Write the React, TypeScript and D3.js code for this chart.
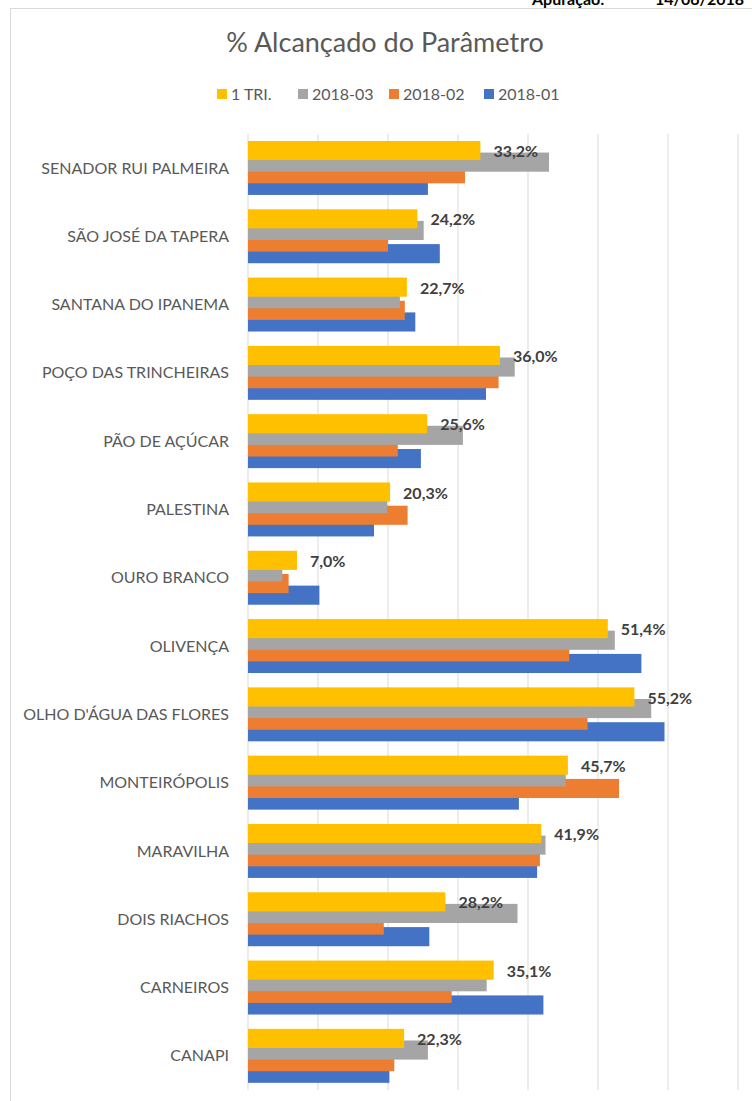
import React from 'react';
import * as d3 from 'd3';

const categories = [
  'SENADOR RUI PALMEIRA',
  'SÃO JOSÉ DA TAPERA',
  'SANTANA DO IPANEMA',
  'POÇO DAS TRINCHEIRAS',
  'PÃO DE AÇÚCAR',
  'PALESTINA',
  'OURO BRANCO',
  'OLIVENÇA',
  "OLHO D'ÁGUA DAS FLORES",
  'MONTEIRÓPOLIS',
  'MARAVILHA',
  'DOIS RIACHOS',
  'CARNEIROS',
  'CANAPI',
];

// % values
const tri1 = [33.2, 24.2, 22.7, 36.0, 25.6, 20.3, 7.0, 51.4, 55.2, 45.7, 41.9, 28.2, 35.1, 22.3];
const s201803 = [43.0, 25.1, 21.7, 38.1, 30.7, 19.9, 4.9, 52.4, 57.6, 45.4, 42.5, 38.5, 34.1, 25.7];
const s201802 = [31.0, 20.0, 22.4, 35.8, 21.4, 22.8, 5.8, 45.9, 48.5, 53.0, 41.7, 19.4, 29.1, 20.9];
const s201801 = [25.7, 27.4, 23.9, 34.0, 24.7, 18.0, 10.2, 56.2, 59.5, 38.7, 41.3, 25.9, 42.2, 20.2];

const seriesNames = ['1 TRI.', '2018-03', '2018-02', '2018-01'];
const seriesColors = ['#FFC000', '#A5A5A5', '#ED7D31', '#4472C4'];
const seriesValues = [tri1, s201803, s201802, s201801];
const xTicks = [0, 0.1, 0.2, 0.3, 0.4, 0.5, 0.6, 0.7, 0.8];

const W = 752;
const H = 1101;
const font = 'Lato, "Open Sans", sans-serif';

export default function App() {
  const x = d3.scaleLinear().domain([0, 0.8]).range([248, 808]);
  const y = d3.scaleBand().domain(categories).range([133.8, 1090]).padding(0);
  const bw = y.bandwidth();
  const barH = bw * 0.28;
  const barStep = bw * 0.17;
  const groupH = barStep * 3 + barH;
  const off = (bw - groupH) / 2;
  const fmt = (v: number) => v.toFixed(1).replace('.', ',') + '%';

  const legendX = [217, 298, 389, 484];

  return (
    <svg width={W} height={H} style={{ position: 'absolute', left: 0, top: 0 }} fontFamily={font}>
      <rect x={0} y={0} width={W} height={H} fill="#fff" />
      {/* sheet header, cut off at the top like in the source */}
      <text x={532} y={5} fontSize={16} fontWeight="bold" fill="#000">Apuração:</text>
      <text x={655} y={5} fontSize={16} fontWeight="bold" fill="#000">14/06/2018</text>
      <rect x={10.5} y={8.5} width={W + 20} height={H + 20} fill="none" stroke="#d9d9d9" />

      <text x={385} y={52} textAnchor="middle" fontSize={27} fill="#595959">% Alcançado do Parâmetro</text>

      {seriesNames.map((name, i) => (
        <g key={name}>
          <rect x={legendX[i]} y={89} width={10} height={10} fill={seriesColors[i]} />
          <text x={legendX[i] + 14} y={99.5} fontSize={16} fill="#595959">{name}</text>
        </g>
      ))}

      {xTicks.map((t) => (
        <line key={t} x1={x(t)} x2={x(t)} y1={133.8} y2={1090} stroke="#d9d9d9" strokeWidth={1} />
      ))}

      {/* draw bottom series first so yellow ends on top */}
      {[3, 2, 1, 0].map((si) => (
        <g key={si}>
          {categories.map((c, ci) => (
            <rect
              key={c}
              x={x(0)}
              y={(y(c) as number) + off + si * barStep}
              width={x(seriesValues[si][ci] / 100) - x(0)}
              height={barH}
              fill={seriesColors[si]}
            />
          ))}
        </g>
      ))}

      {categories.map((c) => (
        <text
          key={c}
          x={229}
          y={(y(c) as number) + bw / 2}
          dy="0.35em"
          textAnchor="end"
          fontSize={16}
          fill="#595959"
        >
          {c}
        </text>
      ))}

      {categories.map((c, ci) => (
        <text
          key={c}
          x={x(tri1[ci] / 100) + 13}
          y={(y(c) as number) + off + barH / 2 + 1}
          dy="0.35em"
          fontSize={16}
          fontWeight="bold"
          fill="#404040"
        >
          {fmt(tri1[ci])}
        </text>
      ))}
    </svg>
  );
}
